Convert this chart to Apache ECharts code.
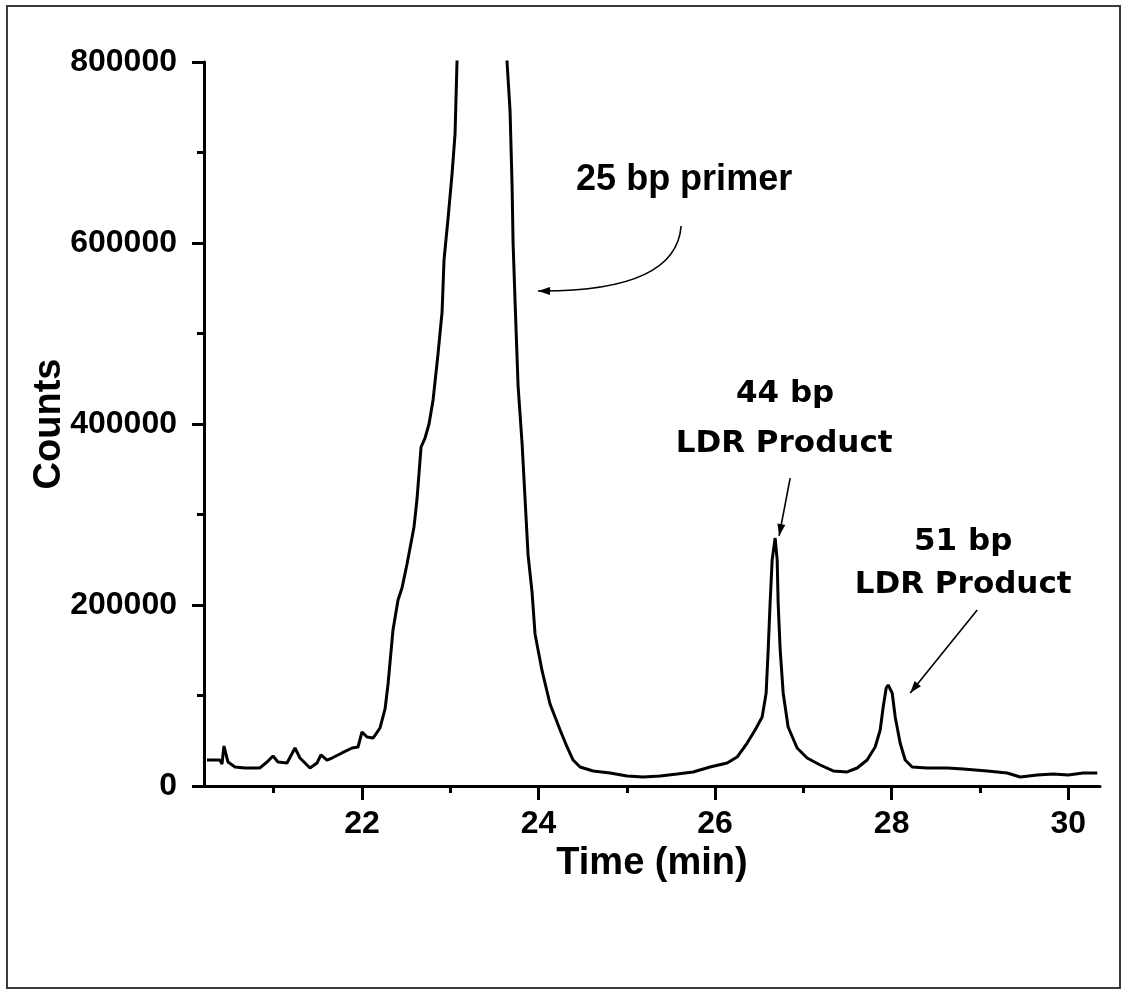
<!DOCTYPE html>
<html>
<head>
<meta charset="utf-8">
<script src="https://cdn.jsdelivr.net/npm/echarts@6/dist/echarts.min.js"></script>
<style>
  html, body { margin: 0; padding: 0; background: #fff; }
  #chart { width: 1124px; height: 991px; }
</style>
</head>
<body>
<div id="chart"></div>
<script>
// retention time (min)
const timeMin = [
  20.244, 20.391, 20.414, 20.436, 20.482, 20.561, 20.674, 20.844, 20.935, 20.992,
  21.048, 21.150, 21.241, 21.297, 21.354, 21.411, 21.490, 21.535, 21.603, 21.660,
  21.773, 21.887, 21.955, 22.000, 22.057, 22.125, 22.204, 22.261, 22.295, 22.351,
  22.408, 22.453, 22.510, 22.589, 22.623, 22.669, 22.714, 22.759, 22.805, 22.861,
  22.907, 22.929, 22.975, 23.020, 23.054, 23.076, 23.130, 23.380, 23.620, 23.643,
  23.677, 23.700, 23.711, 23.734, 23.768, 23.813, 23.847, 23.881, 23.926, 23.960,
  24.040, 24.130, 24.244, 24.323, 24.391, 24.470, 24.618, 24.810, 25.003, 25.184,
  25.377, 25.569, 25.751, 25.943, 26.136, 26.249, 26.363, 26.453, 26.533, 26.578,
  26.601, 26.623, 26.646, 26.680, 26.703, 26.714, 26.737, 26.771, 26.827, 26.929,
  27.042, 27.190, 27.337, 27.496, 27.609, 27.722, 27.813, 27.870, 27.904, 27.938,
  27.960, 28.006, 28.040, 28.096, 28.153, 28.232, 28.402, 28.629, 28.810, 29.082,
  29.309, 29.456, 29.649, 29.830, 30.000, 30.170, 30.329
];
const counts = [
  28700, 28700, 24300, 44200, 26500, 21000, 19900, 19900, 27600, 33200,
  26500, 25400, 42000, 30900, 25400, 19900, 25400, 34300, 28700, 30900,
  36500, 42000, 43100, 59700, 54100, 53000, 64100, 85100, 112700, 172400,
  205500, 218800, 245300, 286200, 317100, 374600, 384500, 400000, 426500, 477400,
  523800, 581200, 627600, 676300, 720500, 800000, 920000, 1500000, 950000, 800000,
  745900, 663000, 601100, 534800, 442000, 379000, 317100, 255300, 214400, 168000,
  127100, 90600, 61900, 43100, 28700, 21000, 16600, 14400, 11100, 9900,
  11100, 13300, 15500, 21000, 25400, 32000, 47500, 61900, 76200, 102800,
  150300, 202200, 249700, 274000, 249700, 202200, 150300, 102800, 65200, 42000,
  30900, 23200, 16600, 15500, 19900, 28700, 43100, 61900, 87300, 108300,
  111600, 102800, 76200, 47500, 28700, 21000, 19900, 19900, 18800, 16600,
  14400, 9900, 12200, 13300, 12200, 14400, 14400
];

const xMajorTicks = [22, 24, 26, 28, 30];
const xMinorTicks = [21, 23, 25, 27, 29];

// annotations (data coordinates)
const noteTexts = ['25 bp primer', '44 bp', 'LDR Product', '51 bp', 'LDR Product'];
const notePos = [[25.649, 669600], [26.793, 433000], [26.782, 378000], [28.810, 270000], [28.810, 222000]];
const noteFonts = [
  'bold 36px "Liberation Sans", Arial, sans-serif',
  'bold 31px "DejaVu Sans", sans-serif',
  'bold 31px "DejaVu Sans", sans-serif',
  'bold 31px "DejaVu Sans", sans-serif',
  'bold 31px "DejaVu Sans", sans-serif'
];
const curveArrow = { from: [25.615, 618800], ctrl: [25.558, 545900], to: [23.994, 547000] };
const straightArrows = [
  { from: [26.850, 340300], to: [26.725, 276300] },
  { from: [28.969, 194500], to: [28.210, 102800] }
];

const xMin = 20.21, xMax = 30.36;
const seriesData = timeMin.map((t, i) => [t, counts[i]]);

const chart = echarts.init(document.getElementById('chart'));
const gridBox = { left: 204, right: 24, top: 62, bottom: 205 };
const tickFont = { fontSize: 32, fontWeight: 'bold', color: '#000', fontFamily: '"Liberation Sans", Arial, sans-serif' };

chart.setOption({
  animation: false,
  backgroundColor: '#fff',
  grid: [Object.assign({}, gridBox), Object.assign({}, gridBox)],
  xAxis: [{
    type: 'value', gridIndex: 0, min: xMin, max: xMax,
    name: 'Time (min)', nameLocation: 'middle', nameGap: 48,
    nameTextStyle: { fontSize: 38, fontWeight: 'bold', color: '#000', fontFamily: '"Liberation Sans", Arial, sans-serif' },
    axisLine: { lineStyle: { color: '#000', width: 3 } },
    axisTick: { customValues: xMajorTicks, length: 14, lineStyle: { color: '#000', width: 3 } },
    axisLabel: Object.assign({ customValues: xMajorTicks, margin: 22, formatter: v => String(v) }, tickFont),
    splitLine: { show: false }
  }, {
    // minor ticks only
    type: 'value', gridIndex: 1, min: xMin, max: xMax,
    axisLine: { show: false },
    axisTick: { customValues: xMinorTicks, length: 7, lineStyle: { color: '#000', width: 3 } },
    axisLabel: { show: false },
    splitLine: { show: false }
  }],
  yAxis: [{
    type: 'value', gridIndex: 0, min: 0, max: 800000, interval: 200000,
    name: 'Counts', nameLocation: 'middle', nameGap: 135, nameRotate: 90, nameMoveOverlap: false,
    nameTextStyle: { fontSize: 38, fontWeight: 'bold', color: '#000', fontFamily: '"Liberation Sans", Arial, sans-serif' },
    axisLine: { show: true, lineStyle: { color: '#000', width: 3 } },
    axisTick: { show: true, length: 12, lineStyle: { color: '#000', width: 3 } },
    minorTick: { show: true, splitNumber: 2, length: 7, lineStyle: { color: '#000', width: 3 } },
    axisLabel: Object.assign({ margin: 27, formatter: v => String(v) }, tickFont),
    splitLine: { show: false }
  }, {
    type: 'value', gridIndex: 1, min: 0, max: 1, show: false
  }],
  series: [{
    type: 'line',
    xAxisIndex: 0, yAxisIndex: 0,
    data: seriesData,
    showSymbol: false,
    clip: true,
    lineStyle: { color: '#000', width: 3 }
  }]
});

// annotations: texts and arrows placed through the axes
function px(p) { return chart.convertToPixel({ gridIndex: 0 }, p); }

function arrowHead(tip, from, len, half) {
  const dx = tip[0] - from[0], dy = tip[1] - from[1];
  const d = Math.sqrt(dx * dx + dy * dy);
  const ux = dx / d, uy = dy / d;
  const bx = tip[0] - ux * len, by = tip[1] - uy * len;
  return {
    type: 'polygon',
    shape: { points: [tip, [bx - uy * half, by + ux * half], [bx + uy * half, by - ux * half]] },
    style: { fill: '#000' }
  };
}

const graphics = [{
  type: 'rect',
  shape: { x: 7, y: 6, width: 1113, height: 982 },
  style: { fill: 'none', stroke: '#3a3a3a', lineWidth: 2 }
}];

noteTexts.forEach((txt, i) => {
  const p = px(notePos[i]);
  graphics.push({
    type: 'text', x: p[0], y: p[1],
    style: { text: txt, font: noteFonts[i], fill: '#000', align: 'center', verticalAlign: 'middle' }
  });
});

const c0 = px(curveArrow.from), c1 = px(curveArrow.ctrl), c2 = px(curveArrow.to);
graphics.push({
  type: 'bezierCurve',
  shape: { x1: c0[0], y1: c0[1], cpx1: c1[0], cpy1: c1[1], x2: c2[0], y2: c2[1] },
  style: { stroke: '#000', lineWidth: 1.6, fill: 'none' }
});
graphics.push(arrowHead(c2, c1, 12, 4));

straightArrows.forEach(a => {
  const f = px(a.from), t = px(a.to);
  graphics.push({
    type: 'line',
    shape: { x1: f[0], y1: f[1], x2: t[0], y2: t[1] },
    style: { stroke: '#000', lineWidth: 1.6 }
  });
  graphics.push(arrowHead(t, f, 12, 4));
});

chart.setOption({ graphic: graphics });
</script>
</body>
</html>
